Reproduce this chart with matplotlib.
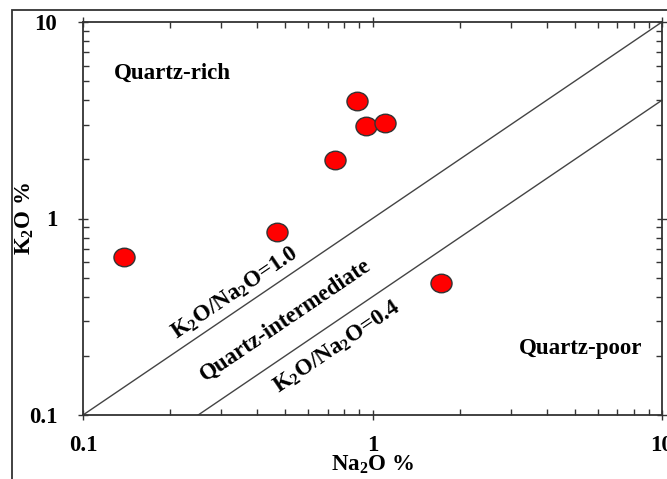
import matplotlib
matplotlib.use("Agg")
import matplotlib.pyplot as plt
import numpy as np
from matplotlib.patches import Rectangle
from matplotlib.path import Path
from matplotlib.transforms import Affine2D
from matplotlib.ticker import FixedLocator, FixedFormatter, LogLocator, NullFormatter

plt.rcParams['font.family'] = ['Liberation Serif', 'DejaVu Serif']
plt.rcParams['font.weight'] = 'bold'
plt.rcParams['mathtext.fontset'] = 'custom'
plt.rcParams['mathtext.rm'] = 'Liberation Serif:bold'
plt.rcParams['mathtext.it'] = 'Liberation Serif:bold'
plt.rcParams['mathtext.bf'] = 'Liberation Serif:bold'

# Sample compositions (wt %)
na2o = [0.139, 0.467, 0.741, 0.884, 0.949, 1.105, 1.727]
k2o = [0.64, 0.85, 1.98, 3.95, 2.97, 3.07, 0.47]

# Discrimination boundaries (K2O/Na2O ratio)
ratios = [1.0, 0.4]
tick_values = [0.1, 1, 10]
tick_labels = ['0.1', '1', '10']

FS = 16.5
W, H = 667, 479
fig = plt.figure(figsize=(W / 100, H / 100), dpi=100)

# outer frame (runs past the right and bottom edges)
fig.patches.append(Rectangle((12 / W, -1.0), 2.0, 2.0 - 10 / H, transform=fig.transFigure,
                             fill=False, edgecolor='#333333', linewidth=1.3, clip_on=False))

ax = fig.add_axes([83 / W, 1 - 415 / H, (662 - 83) / W, (415 - 22) / H])
ax.set_xscale('log')
ax.set_yscale('log')
ax.set_xlim(0.1, 10)
ax.set_ylim(0.1, 10)

xs = np.array([0.1, 10.0])
for r in ratios:
    ax.plot(xs, r * xs, color='#444444', linewidth=1.0, zorder=2)

# slightly flattened circle marker
oval = Path.unit_circle().transformed(Affine2D().scale(1.0, 0.88))
ax.scatter(na2o, k2o, s=230, marker=oval, facecolor='#ff0000', edgecolor='#333333',
           linewidth=1.0, zorder=3)

for axis in (ax.xaxis, ax.yaxis):
    axis.set_major_locator(FixedLocator(tick_values))
    axis.set_major_formatter(FixedFormatter(tick_labels))
    axis.set_minor_locator(LogLocator(base=10, subs=np.arange(2, 10), numticks=10))
    axis.set_minor_formatter(NullFormatter())

ax.tick_params(which='both', direction='in', top=True, right=True, color='#333333', width=1.0)
ax.tick_params(which='major', length=7, direction='inout')
ax.tick_params(which='minor', length=4)
ax.tick_params(axis='x', which='major', pad=11, labelsize=FS)
ax.tick_params(axis='y', which='major', pad=15, labelsize=FS)
for s in ax.spines.values():
    s.set_color('#333333')
    s.set_linewidth(1.3)

ax.set_xlabel('Na$_2$O %', fontsize=FS, fontweight='bold')
ax.set_ylabel('K$_2$O %', fontsize=FS, fontweight='bold')
ax.xaxis.set_label_coords(0.5, -0.128)
ax.yaxis.set_label_coords(-0.100, 0.50)
ax.xaxis.label.set_va('center')
ax.yaxis.label.set_va('center')

ax.text(0.155, 0.870, 'Quartz-rich', transform=ax.transAxes, fontsize=FS,
        ha='center', va='center')
ax.text(0.860, 0.168, 'Quartz-poor', transform=ax.transAxes, fontsize=FS,
        ha='center', va='center')

ang = np.degrees(np.arctan((415 - 22) / (662 - 83)))
ax.text(0.2625, 0.3104, 'K$_2$O/Na$_2$O=1.0', transform=ax.transAxes, fontsize=FS,
        ha='center', va='center', rotation=ang, rotation_mode='anchor')
ax.text(0.3506, 0.2417, 'Quartz-intermediate', transform=ax.transAxes, fontsize=FS,
        ha='center', va='center', rotation=ang, rotation_mode='anchor')
ax.text(0.4387, 0.1730, 'K$_2$O/Na$_2$O=0.4', transform=ax.transAxes, fontsize=FS,
        ha='center', va='center', rotation=ang, rotation_mode='anchor')

fig.savefig('out.png', dpi=100)
